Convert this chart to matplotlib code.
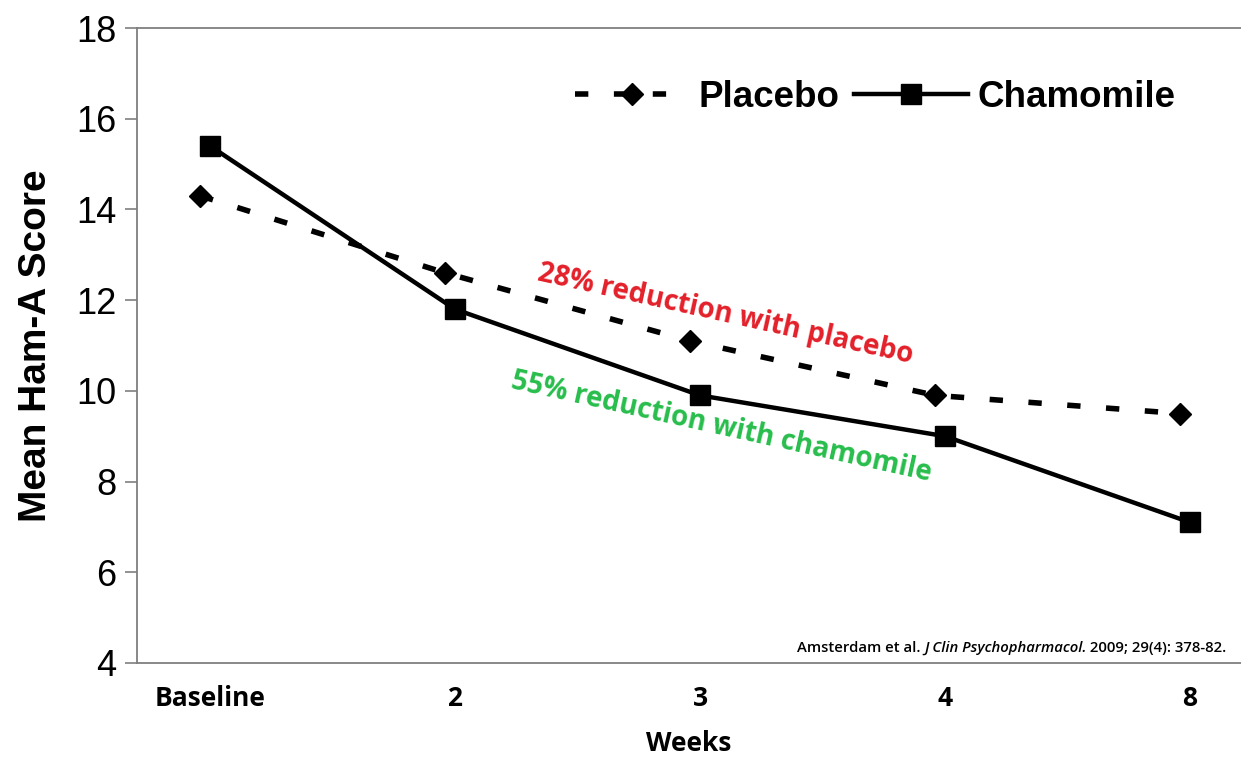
import matplotlib
matplotlib.use("Agg")
import matplotlib.pyplot as plt
import numpy as np

# === Data ===
weeks = ["Baseline", "2", "3", "4", "8"]
placebo = [14.3, 12.6, 11.1, 9.9, 9.5]
chamomile = [15.4, 11.8, 9.9, 9.0, 7.1]
yticks = [4, 6, 8, 10, 12, 14, 16, 18]

red = "#E3202A"
green = "#27BD4B"
spine_col = "#7F7F7F"

fig = plt.figure(figsize=(12.41, 7.57), dpi=100)
ax = fig.add_axes([0.1104, 0.1242, 0.8896, 0.8388])

x = np.arange(len(weeks))
# placebo markers sit slightly left of the chamomile ones in the original
ax.plot(x - 0.04, placebo, color="black", lw=4, dashes=(2.4, 4.6),
        marker="D", ms=11, label="Placebo")
ax.plot(x, chamomile, color="black", lw=3.2, marker="s", ms=15,
        label="Chamomile")

ax.set_xlim(-0.298, 4.208)
ax.set_ylim(4, 18)
ax.set_yticks(yticks)
ax.set_xticks(x)
ax.set_xticklabels(weeks, fontfamily="Open Sans", fontweight="bold", fontsize=19)
for lab in ax.get_yticklabels():
    lab.set_fontfamily("Liberation Sans")
    lab.set_fontsize(26)

ax.tick_params(axis="y", length=9, width=1.2, color=spine_col, pad=6)
ax.tick_params(axis="x", length=0, pad=16)

for side in ["left", "bottom", "top"]:
    ax.spines[side].set_color(spine_col)
    ax.spines[side].set_linewidth(1.3)
ax.spines["right"].set_visible(False)

ax.set_ylabel("Mean Ham-A Score", fontfamily="Liberation Sans", fontweight="bold",
              fontsize=28, labelpad=16)
ax.set_xlabel("Weeks", fontfamily="Open Sans", fontweight="bold", fontsize=19,
              labelpad=13)

leg = ax.legend(loc="center right", bbox_to_anchor=(0.954, 0.891), ncol=2,
                frameon=False, handlelength=3.1, handletextpad=0.25,
                columnspacing=0.4, borderaxespad=0,
                prop={"family": "Liberation Sans", "weight": "bold", "size": 26.5})

# === Annotations ===
ax.text(1.34, 12.6, "28% reduction with placebo", color=red, fontsize=20,
        fontfamily="Open Sans", fontweight="bold", rotation=-12.5,
        rotation_mode="anchor", ha="left", va="center")
ax.text(1.233, 10.22, "55% reduction with chamomile", color=green, fontsize=20,
        fontfamily="Open Sans", fontweight="bold", rotation=-12.5,
        rotation_mode="anchor", ha="left", va="center")

# citation, with the journal name in italics
t1 = ax.text(0.5975, 0.018, "Amsterdam et al. ", transform=ax.transAxes,
             fontfamily="Open Sans", fontweight="semibold", fontsize=10.7,
             ha="left", va="baseline")
t2 = ax.annotate("J Clin Psychopharmacol.", xy=(1, 0), xycoords=t1,
                 fontfamily="Open Sans", fontweight="semibold", style="italic",
                 fontsize=10.7, ha="left", va="bottom")
t3 = ax.annotate(" 2009; 29(4): 378-82.", xy=(1, 0), xycoords=t2,
                 fontfamily="Open Sans", fontweight="semibold", fontsize=10.7,
                 ha="left", va="bottom")

fig.savefig("out.png", dpi=100)
